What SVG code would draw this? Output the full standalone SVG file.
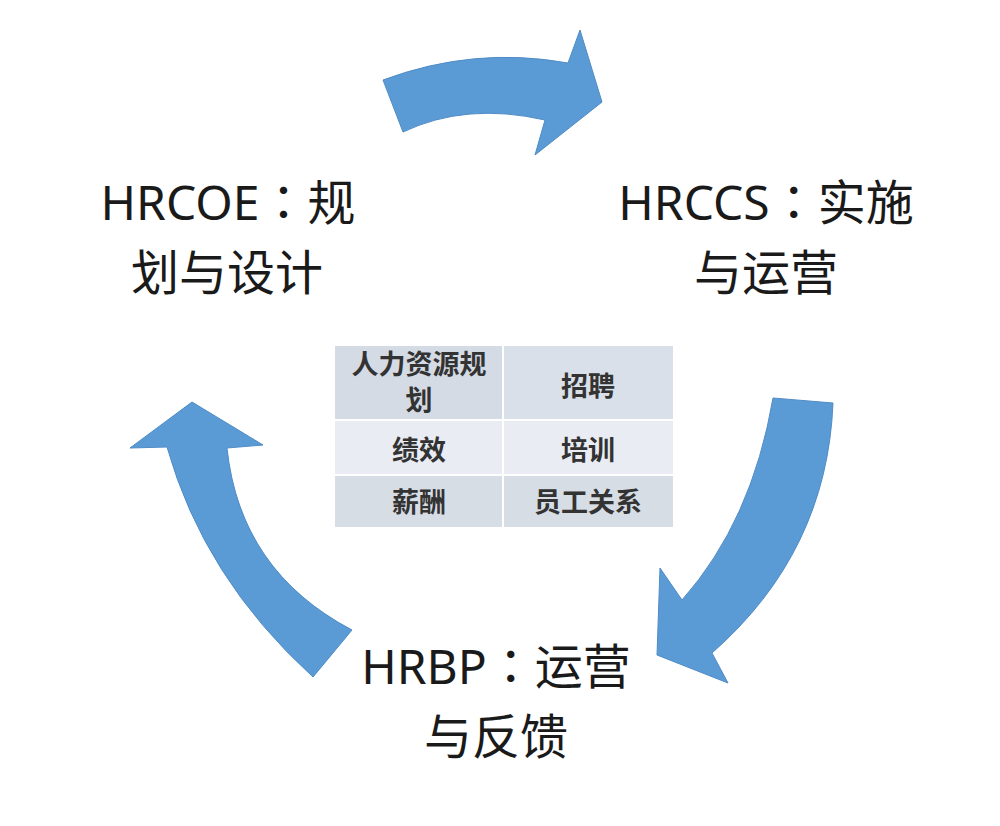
<svg xmlns="http://www.w3.org/2000/svg" width="1000" height="826" viewBox="0 0 1000 826">
  <style>
    .arrow { fill: #5b9bd5; stroke: #4f8cc6; stroke-width: 1; stroke-linejoin: miter; }
    .big { font-family: "Noto Sans", "Noto Sans CJK SC", sans-serif; font-size: 48px; fill: #1a1a1a; text-anchor: middle; }
    .colon { font-family: "Noto Sans CJK TC", "Noto Sans CJK SC", sans-serif; }
    .cell { font-family: "Noto Sans CJK SC", sans-serif; font-size: 27px; font-weight: bold; fill: #333333; text-anchor: middle; }
    .r1 { fill: #d4dbe5; }
    .r2 { fill: #e9edf3; }
    .r3 { fill: #d7dde5; }
  </style>
  <rect x="0" y="0" width="1000" height="826" fill="#ffffff"/>

  <g id="connectors">
    <path id="arrow-top" class="arrow" d="M383,80 Q474,46 568,63 L580,30 L602,102 L535,155 L545,120 Q466,102 403,132 Z"/>
    <path id="arrow-right" class="arrow" d="M773,398 L833,403 Q827,552 712,653 L728,683 L657,655 L660,568 L682,600 Q752,521 773,398 Z"/>
    <path id="arrow-left" class="arrow" d="M192,402 L263,445 L227,448 Q240,571 352,630 L313,677 Q204,578 167,447 L130,448 Z"/>
  </g>

  <g id="node-hrcoe">
    <text class="big" x="228" y="220">HRCOE<tspan class="colon">：</tspan>规</text>
    <text class="big" x="227" y="290">划与设计</text>
  </g>

  <g id="node-hrccs">
    <text class="big" x="766" y="220">HRCCS<tspan class="colon">：</tspan>实施</text>
    <text class="big" x="766" y="290">与运营</text>
  </g>

  <g id="node-hrbp">
    <text class="big" x="496" y="684">HRBP<tspan class="colon">：</tspan>运营</text>
    <text class="big" x="496" y="754">与反馈</text>
  </g>

  <g id="node-table">
    <rect class="r1" x="335" y="346" width="167" height="73"/>
    <rect class="r1" x="504" y="346" width="169" height="73" fill-opacity="0.85"/>
    <rect class="r2" x="335" y="421" width="167" height="53"/>
    <rect class="r2" x="504" y="421" width="169" height="53"/>
    <rect class="r3" x="335" y="476" width="167" height="51"/>
    <rect class="r3" x="504" y="476" width="169" height="51"/>
    <text class="cell" font-size="24" x="419" y="374">人力资源规</text>
    <text class="cell" font-size="24" x="419" y="410">划</text>
    <text class="cell" x="588" y="396">招聘</text>
    <text class="cell" x="419" y="460">绩效</text>
    <text class="cell" x="588" y="460">培训</text>
    <text class="cell" x="419" y="512">薪酬</text>
    <text class="cell" x="588" y="512">员工关系</text>
  </g>
</svg>
